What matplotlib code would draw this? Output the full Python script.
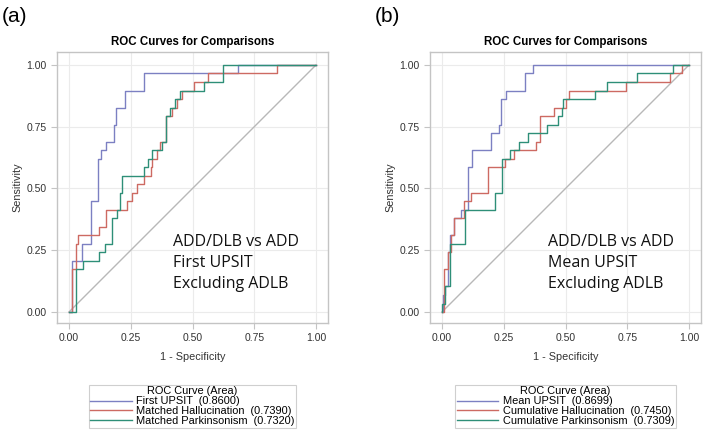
import numpy as np
import matplotlib
matplotlib.use("Agg")
import matplotlib.pyplot as plt

plt.rcParams['font.family'] = ['Liberation Sans', 'DejaVu Sans']

# ROC step corners (1 - specificity, sensitivity)
# panel (a): first UPSIT
a_upsit_x = [0, 0.013, 0.054, 0.088, 0.119, 0.129, 0.148, 0.18, 0.19, 0.225, 0.302, 0.683, 1.0]
a_upsit_y = [0, 0.207, 0.276, 0.448, 0.621, 0.655, 0.69, 0.759, 0.828, 0.897, 0.966, 1.0, 1.0]
a_hall_x = [0, 0.01, 0.028, 0.038, 0.12, 0.15, 0.234, 0.255, 0.275, 0.305, 0.33, 0.336,
            0.356, 0.37, 0.393, 0.417, 0.438, 0.458, 0.508, 0.562, 0.841, 1.0]
a_hall_y = [0, 0.172, 0.276, 0.31, 0.345, 0.414, 0.448, 0.483, 0.517, 0.552, 0.586, 0.621,
            0.655, 0.69, 0.793, 0.828, 0.862, 0.897, 0.931, 0.966, 1.0, 1.0]
a_park_x = [0, 0.03, 0.058, 0.12, 0.146, 0.174, 0.194, 0.205, 0.214, 0.302, 0.32, 0.336,
            0.377, 0.393, 0.41, 0.431, 0.451, 0.546, 0.625, 1.0]
a_park_y = [0, 0.172, 0.207, 0.241, 0.276, 0.379, 0.414, 0.483, 0.552, 0.586, 0.621, 0.655,
            0.69, 0.793, 0.828, 0.862, 0.897, 0.931, 1.0, 1.0]

# panel (b): mean UPSIT
b_upsit_x = [0, 0.003, 0.011, 0.022, 0.031, 0.047, 0.076, 0.105, 0.122, 0.197, 0.23,
             0.24, 0.257, 0.335, 0.37, 1.0]
b_upsit_y = [0, 0.069, 0.103, 0.241, 0.31, 0.379, 0.414, 0.586, 0.655, 0.724, 0.759,
             0.862, 0.897, 0.966, 1.0, 1.0]
b_hall_x = [0, 0.008, 0.022, 0.035, 0.047, 0.089, 0.119, 0.184, 0.254, 0.292, 0.38,
            0.396, 0.453, 0.502, 0.516, 0.745, 0.923, 0.97, 1.0]
b_hall_y = [0, 0.172, 0.241, 0.31, 0.379, 0.448, 0.483, 0.586, 0.621, 0.655, 0.69,
            0.793, 0.828, 0.862, 0.897, 0.931, 0.966, 1.0, 1.0]
b_park_x = [0, 0.0, 0.011, 0.031, 0.092, 0.215, 0.244, 0.274, 0.312, 0.349, 0.424,
            0.471, 0.485, 0.491, 0.619, 0.667, 0.788, 0.937, 1.0]
b_park_y = [0, 0.034, 0.103, 0.276, 0.414, 0.483, 0.621, 0.655, 0.69, 0.724, 0.759,
            0.793, 0.828, 0.862, 0.897, 0.931, 0.966, 1.0, 1.0]

ticks = [0.0, 0.25, 0.5, 0.75, 1.0]
tick_labels = ['0.00', '0.25', '0.50', '0.75', '1.00']

colors = ['#7c80c2', '#cd6a62', '#2e8f78']

panels = [
    ('(a)', 57, [(a_upsit_x, a_upsit_y), (a_hall_x, a_hall_y), (a_park_x, a_park_y)],
     ['First UPSIT  (0.8600)', 'Matched Hallucination  (0.7390)', 'Matched Parkinsonism  (0.7320)'],
     'ADD/DLB vs ADD\nFirst UPSIT\nExcluding ADLB', 0.42),
    ('(b)', 430, [(b_upsit_x, b_upsit_y), (b_hall_x, b_hall_y), (b_park_x, b_park_y)],
     ['Mean UPSIT  (0.8699)', 'Cumulative Hallucination  (0.7450)', 'Cumulative Parkinsonism  (0.7309)'],
     'ADD/DLB vs ADD\nMean UPSIT\nExcluding ADLB', 0.43),
]

W, H = 706, 433
fig = plt.figure(figsize=(W / 100, H / 100), dpi=100)

for tag, left_px, curves, names, note, note_x in panels:
    ax = fig.add_axes([left_px / W, 1 - 323 / H, 271 / W, 271 / H])
    ax.set_xlim(-0.049, 1.049)
    ax.set_ylim(-0.045, 1.053)
    ax.plot([0, 1], [0, 1], color='#b8b8b8', lw=1.0, zorder=2)
    for (xs, ys), c, name in zip(curves, colors, names):
        ax.plot(xs, ys, drawstyle='steps-post', color=c, lw=1.0, label=name, zorder=3)
    ax.set_xticks(ticks)
    ax.set_xticklabels(tick_labels)
    ax.set_yticks(ticks)
    ax.set_yticklabels(tick_labels)
    ax.grid(True, color='#ebebeb', lw=0.8)
    ax.set_axisbelow(True)
    for s in ax.spines.values():
        s.set_color('#c4c4c4')
        s.set_linewidth(1.0)
    ax.tick_params(colors='#c4c4c4', labelcolor='#333333', labelsize=7.5, length=4, width=0.8)
    ax.set_xlabel('1 - Specificity', fontsize=7.8, color='#333333', labelpad=6)
    ax.set_ylabel('Sensitivity', fontsize=7.8, color='#333333', labelpad=3)
    ax.set_title('ROC Curves for Comparisons', fontsize=8.3, fontweight='bold', pad=5)
    ax.text(note_x, 0.198, note, fontsize=11.5, va='center', ha='left', linespacing=1.45,
            family=['Open Sans', 'DejaVu Sans'], color='#111111')
    leg = ax.legend(loc='upper center', bbox_to_anchor=(0.5, -0.228), title='ROC Curve (Area)',
                    fontsize=7.9, title_fontsize=7.9, frameon=True, fancybox=False,
                    edgecolor='#c4c4c4', handlelength=3.8, handletextpad=0.4,
                    borderpad=0.15, labelspacing=-0.02, borderaxespad=0)
    leg.get_frame().set_linewidth(0.8)
    leg._legend_box.sep = 0
    fig.text((left_px - 55) / W, 1 - 17 / H, tag, fontsize=15, va='center', ha='left')

fig.savefig('out.png', dpi=100)
